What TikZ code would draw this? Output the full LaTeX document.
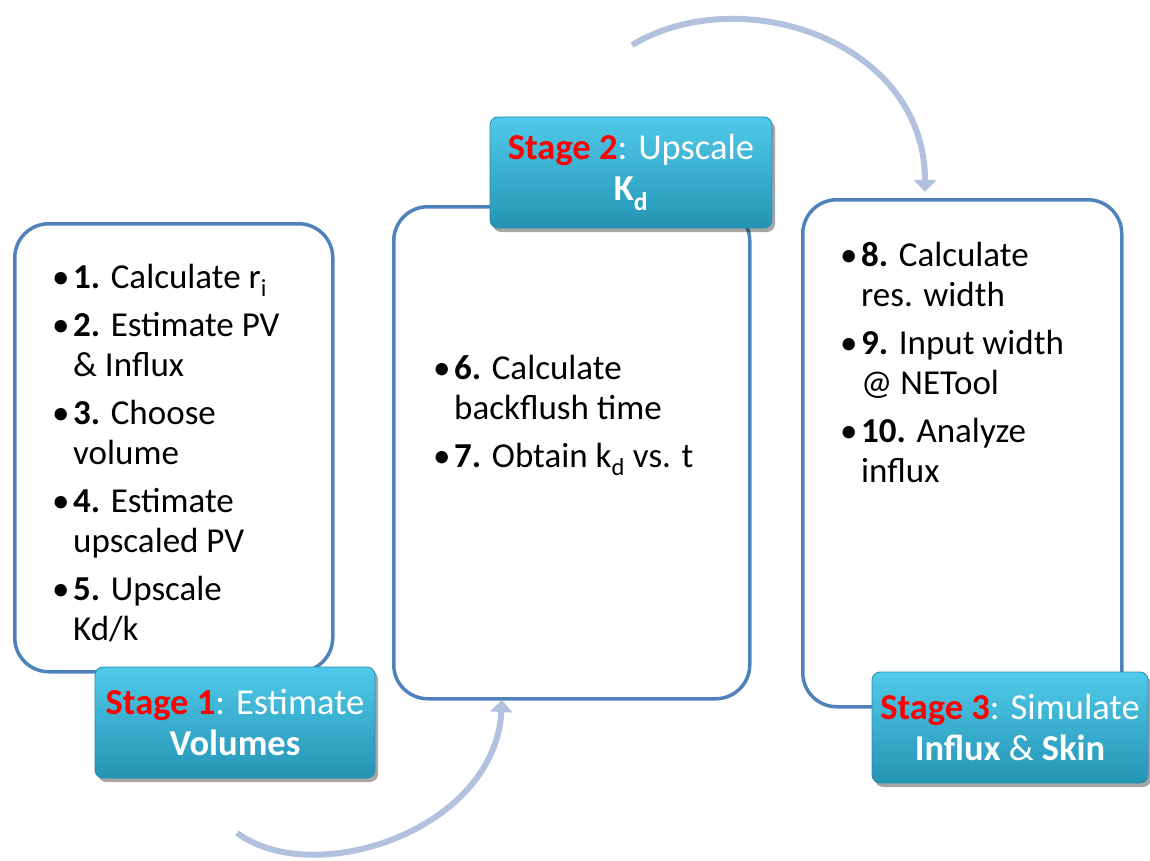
\documentclass[tikz,border=0pt]{standalone}
\usepackage{fontspec}
\setmainfont{Carlito}
\usetikzlibrary{shadows,arrows.meta}
\definecolor{boxblue}{RGB}{79,129,189}
\definecolor{arrowc}{RGB}{178,194,222}
\definecolor{stagetop}{RGB}{80,202,234}
\definecolor{stagebot}{RGB}{36,148,180}
\definecolor{stageline}{RGB}{40,140,170}
\newcommand\bitem[2]{\noindent\hangindent=21pt\hangafter=1\strut\makebox[21pt][l]{•}\textbf{#1} #2\par}
\newcommand\isep{\vspace{8pt}}
\newcommand\blist[1]{\parbox[t]{320pt}{\raggedright\fontsize{35}{40}\selectfont #1}}
\tikzset{
  x=1pt, y=-1pt,
  cbox/.style={draw=boxblue, line width=3.5pt, rounded corners=34pt, fill=white, anchor=north west, inner sep=0},
  content/.style={anchor=north west, inner sep=0},
  stagebox/.style={rounded corners=8pt, top color=stagetop, bottom color=stagebot, draw=stageline, line width=0.8pt,
     text=white, align=center, font=\fontsize{36.5}{41}\selectfont, inner sep=0,
     drop shadow={shadow xshift=3pt, shadow yshift=-4pt, opacity=0.35, fill=black}},
  flow/.style={draw=arrowc, line width=6pt, -{Triangle[length=12pt,width=22pt]}}
}
\begin{document}
\begin{tikzpicture}
\useasboundingbox (0,0) rectangle (1150,861);
% content boxes
\node[cbox, minimum width=318pt, minimum height=448pt] (b1) at (13,222) {};
\node[cbox, minimum width=356pt, minimum height=492pt] (b2) at (392,205) {};
\node[cbox, minimum width=319pt, minimum height=507pt] (b3) at (801,198) {};
% texts
\node[content] (t1) at (52,260) {\blist{%
\bitem{1.}{Calculate r\textsubscript{i}}\isep
\bitem{2.}{Estimate PV\newline \& Influx}\isep
\bitem{3.}{Choose\newline volume}\isep
\bitem{4.}{Estimate\newline upscaled PV}\isep
\bitem{5.}{Upscale\newline Kd/k}}};
\node[content] (t2) at (433,351) {\blist{%
\bitem{6.}{Calculate\newline backflush time}\isep
\bitem{7.}{Obtain k\textsubscript{d} vs. t}}};
\node[content] (t3) at (840,238) {\blist{%
\bitem{8.}{Calculate\newline res. width}\isep
\bitem{9.}{Input width\newline @ NETool}\isep
\bitem{10.}{Analyze\newline influx}}};
% stage boxes
\node[stagebox, minimum width=280pt, minimum height=111pt] (s1) at (235,722.5)
  {\raisebox{-4pt}{\textcolor{red}{\textbf{Stage 1}}: Estimate}\\\raisebox{-4pt}{\textbf{Volumes}}};
\node[stagebox, minimum width=282pt, minimum height=111pt] (s2) at (631,172.5)
  {\raisebox{-4pt}{\textcolor{red}{\textbf{Stage 2}}: Upscale}\\\raisebox{-4pt}{\textbf{K\textsubscript{d}}}};
\node[stagebox, minimum width=276pt, minimum height=111pt] (s3) at (1010,727.5)
  {\raisebox{-4pt}{\textcolor{red}{\textbf{Stage 3}}: Simulate}\\\raisebox{-4pt}{\textbf{Influx} \& \textbf{Skin}}};
% arrows
\coordinate (a1s) at (632,45);
\coordinate (a1e) at (925,192);
\coordinate (a2s) at (237,833);
\coordinate (a2e) at (502,700);
\draw[flow] (a1s) .. controls (740,-20) and (925,40) .. (a1e);
\draw[flow] (a2s) .. controls (315,890) and (495,830) .. (a2e);
\end{tikzpicture}
\end{document}
